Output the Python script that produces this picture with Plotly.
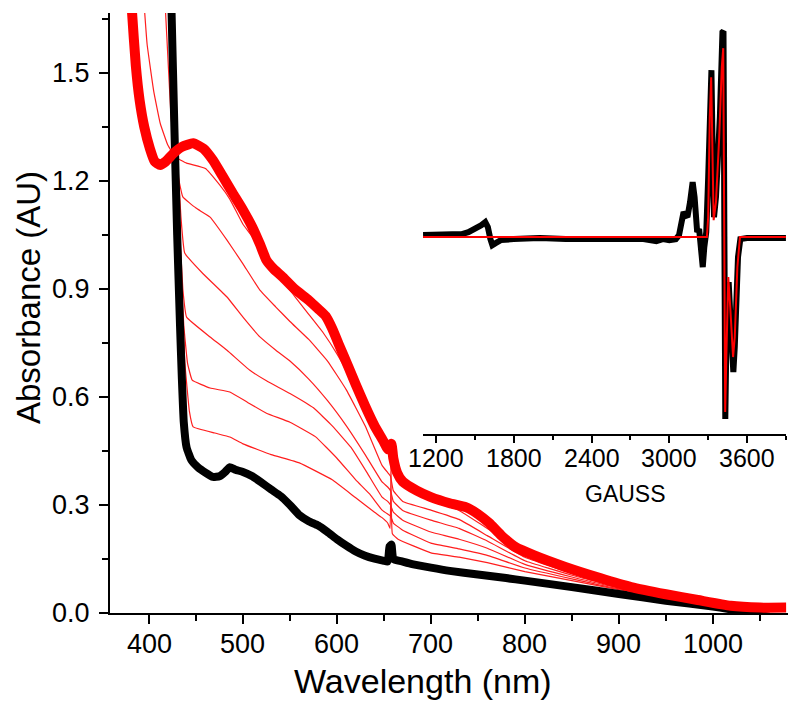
import plotly.graph_objects as go

# ---------------- UV-vis data (wavelength nm, absorbance AU) ----------------
black_wl = [410, 420, 424, 427, 430, 433, 435, 437, 440, 445, 452, 460, 468, 475, 481, 486, 492, 500,
            510, 520, 530, 540, 550, 560, 570, 580, 590, 600, 610, 620, 630, 640, 650, 654, 656, 658,
            660, 670, 680, 700, 720, 750, 780, 800, 850, 900, 950, 1000, 1030, 1060]
black_abs = [3.0, 2.1, 1.67, 1.35, 1.05, 0.80, 0.65, 0.53, 0.46, 0.425, 0.405, 0.39, 0.378, 0.38, 0.392,
             0.405, 0.398, 0.392, 0.38, 0.362, 0.343, 0.325, 0.30, 0.272, 0.255, 0.243, 0.225, 0.205,
             0.187, 0.171, 0.159, 0.151, 0.145, 0.143, 0.185, 0.19, 0.15, 0.143, 0.136, 0.126, 0.117,
             0.107, 0.097, 0.09, 0.072, 0.053, 0.034, 0.018, 0.005, -0.01]

final_wl = [375, 382, 386, 390, 395, 401, 406, 412, 418, 426, 435, 447, 458, 468, 478, 489, 500, 510,
            518, 525, 533, 542, 555, 570, 580, 588, 595, 603, 612, 620, 630, 640, 650, 654, 656, 658,
            660, 664, 670, 685, 700, 720, 737, 750, 762, 775, 790, 810, 843, 880, 913, 950, 984, 1019,
            1050, 1078]
final_abs = [2.0, 1.667, 1.52, 1.425, 1.35, 1.29, 1.255, 1.245, 1.255, 1.277, 1.295, 1.305, 1.29, 1.258,
             1.215, 1.167, 1.12, 1.072, 1.025, 0.98, 0.955, 0.934, 0.90, 0.869, 0.845, 0.825, 0.79, 0.74,
             0.685, 0.635, 0.575, 0.52, 0.475, 0.455, 0.46, 0.47, 0.43, 0.39, 0.365, 0.34, 0.322, 0.305,
             0.294, 0.275, 0.25, 0.215, 0.183, 0.16, 0.128, 0.097, 0.072, 0.052, 0.036, 0.02, 0.015, 0.015]

# intermediate spectra (thin lines)
a_wl = [394, 398, 405, 412, 420, 428, 440, 460, 475, 486, 500, 510, 525, 540, 555, 570, 585, 600, 615,
        630, 645, 654, 657, 660, 670, 700, 730, 760, 800, 850, 900, 950]
a_abs = [1.72, 1.58, 1.45, 1.36, 1.30, 1.267, 1.25, 1.235, 1.19, 1.15, 1.08, 1.045, 0.975, 0.93, 0.88,
         0.83, 0.78, 0.72, 0.65, 0.575, 0.505, 0.47, 0.45, 0.40, 0.36, 0.315, 0.285, 0.235, 0.17, 0.12,
         0.08, 0.058]

b_wl = [415, 419, 423, 427, 432, 436, 450, 465, 483, 500, 518, 535, 550, 570, 590, 610, 630, 648, 654,
        657, 660, 670, 700, 730, 760, 800, 850, 900, 950]
b_abs = [1.8, 1.6, 1.4, 1.28, 1.2, 1.156, 1.125, 1.1, 1.036, 0.97, 0.897, 0.85, 0.81, 0.76, 0.70, 0.62,
         0.52, 0.41, 0.39, 0.38, 0.34, 0.31, 0.286, 0.26, 0.215, 0.155, 0.11, 0.075, 0.055]

c_wl = [420, 425, 430, 434, 438, 457, 483, 500, 518, 535, 550, 570, 590, 610, 630, 648, 654, 657, 660,
        670, 700, 730, 760, 800, 850, 900, 950]
c_abs = [2.0, 1.6, 1.28, 1.1, 1.0, 0.944, 0.878, 0.822, 0.767, 0.73, 0.70, 0.65, 0.59, 0.52, 0.44, 0.364,
         0.35, 0.34, 0.31, 0.285, 0.258, 0.235, 0.2, 0.145, 0.105, 0.072, 0.052]

d_wl = [421, 427, 432, 436, 440, 465, 483, 507, 525, 550, 575, 595, 615, 632, 648, 654, 657, 660, 670,
        700, 730, 760, 800, 850, 900, 950]
d_abs = [2.0, 1.5, 1.1, 0.9, 0.822, 0.767, 0.73, 0.675, 0.645, 0.61, 0.57, 0.52, 0.46, 0.39, 0.322, 0.31,
         0.30, 0.28, 0.258, 0.225, 0.205, 0.18, 0.135, 0.10, 0.07, 0.05]

e_wl = [422, 428, 433, 437, 441, 446, 465, 486, 505, 525, 550, 577, 600, 620, 635, 648, 654, 657, 660,
        670, 700, 730, 760, 800, 850, 900, 950]
e_abs = [2.0, 1.4, 1.0, 0.8, 0.694, 0.647, 0.625, 0.614, 0.585, 0.555, 0.53, 0.49, 0.43, 0.37, 0.33,
         0.286, 0.275, 0.27, 0.25, 0.23, 0.194, 0.178, 0.16, 0.125, 0.095, 0.067, 0.048]

f_wl = [423, 429, 434, 438, 443, 447, 470, 486, 500, 530, 560, 595, 620, 640, 648, 654, 656.5, 657.5,
        659, 665, 700, 730, 760, 800, 850, 900, 950]
f_abs = [2.0, 1.4, 0.95, 0.7, 0.56, 0.517, 0.50, 0.489, 0.47, 0.44, 0.417, 0.37, 0.32, 0.28, 0.265, 0.25,
         0.235, 0.41, 0.22, 0.205, 0.167, 0.155, 0.14, 0.115, 0.09, 0.065, 0.046]

thin_series = [(a_wl, a_abs), (b_wl, b_abs), (c_wl, c_abs), (d_wl, d_abs), (e_wl, e_abs), (f_wl, f_abs)]

# tick values
x_ticks = [400, 500, 600, 700, 800, 900, 1000]
y_ticks = [0.0, 0.3, 0.6, 0.9, 1.2, 1.5]
g_ticks = [1200, 1800, 2400, 3000, 3600]

# ---------------- EPR inset data (field G, intensity a.u.) ----------------
epr_exp_g = [1100, 1300, 1400, 1450, 1500, 1550, 1580, 1600, 1620, 1635, 1660, 1700, 1800, 2000, 2200,
             2400, 2600, 2800, 2900, 2950, 3000, 3050, 3075, 3095, 3110, 3125, 3140, 3160, 3180, 3195,
             3205, 3215, 3230, 3245, 3258, 3270, 3285, 3300, 3315, 3325, 3335, 3345, 3360, 3390, 3410,
             3418, 3425, 3432, 3445, 3458, 3475, 3494, 3505, 3530, 3548, 3600, 3900]
epr_exp_i = [2, 2, 3, 5, 8, 12, 15, 10, -2, -8, -6, -3, -2, -1, -2, -2, -1, -2, -4, -2, -3, -2, 2, 18, 25,
             22, 20, 35, 55, 40, 10, 5, 8, -15, -30, -10, 5, 60, 150, 167, 80, 20, 40, 120, 205, 206, 0,
             -182, -60, -45, -90, -135, -110, -20, -2, -1, -1]

epr_sim_g = [1100, 3290, 3300, 3312, 3323, 3333, 3342, 3360, 3385, 3405, 3416, 3424, 3431, 3440, 3455,
             3470, 3492, 3505, 3525, 3545, 3900]
epr_sim_i = [0, 0, 20, 120, 160, 60, 17, 35, 100, 170, 189, 0, -175, -120, -40, -70, -120, -100, -30, 0, 0]

FONT = "Liberation Sans, Arial, sans-serif"

fig = go.Figure()

for wl, ab in thin_series:
    fig.add_trace(go.Scatter(x=wl, y=ab, mode="lines",
                             line=dict(color="rgb(255,30,30)", width=1.2, shape="spline", smoothing=0.3),
                             showlegend=False, hoverinfo="skip"))

fig.add_trace(go.Scatter(x=black_wl, y=black_abs, mode="lines",
                         line=dict(color="black", width=8, shape="spline", smoothing=0.4),
                         showlegend=False))
fig.add_trace(go.Scatter(x=final_wl, y=final_abs, mode="lines",
                         line=dict(color="rgb(255,0,0)", width=10, shape="spline", smoothing=0.5),
                         showlegend=False))

# inset
fig.add_trace(go.Scatter(x=epr_exp_g, y=epr_exp_i, mode="lines", xaxis="x2", yaxis="y2",
                         line=dict(color="black", width=6), showlegend=False))
fig.add_trace(go.Scatter(x=epr_sim_g, y=epr_sim_i, mode="lines", xaxis="x2", yaxis="y2",
                         line=dict(color="rgb(255,0,0)", width=2), showlegend=False))

annotations = [
    dict(text="Absorbance (AU)", x=-0.1209, y=0.525, xref="paper", yref="paper", textangle=-90,
         showarrow=False, xanchor="center", yanchor="middle", font=dict(size=33, family=FONT)),
    dict(text="Wavelength (nm)", x=0.4617, y=-0.113, xref="paper", yref="paper",
         showarrow=False, xanchor="center", yanchor="middle", font=dict(size=34, family=FONT)),
    dict(text="GAUSS", x=0.7596, y=0.198, xref="paper", yref="paper",
         showarrow=False, xanchor="center", yanchor="middle", font=dict(size=23, family=FONT)),
]
# tick labels placed against the axes' own scales
for v in x_ticks:
    annotations.append(dict(text=str(v), x=v, y=-0.0517, xref="x", yref="paper", showarrow=False,
                            xanchor="center", yanchor="middle", font=dict(size=27, family=FONT)))
for v in y_ticks:
    annotations.append(dict(text=f"{v:.1f}", x=-0.0265, y=v, xref="paper", yref="y", showarrow=False,
                            xanchor="right", yanchor="middle", font=dict(size=27, family=FONT)))
for v in g_ticks:
    annotations.append(dict(text=str(v), x=v, y=0.2583, xref="x2", yref="paper", showarrow=False,
                            xanchor="center", yanchor="middle", font=dict(size=25, family=FONT)))

fig.update_layout(
    width=800, height=711,
    margin=dict(l=102, r=20, t=5, b=106),
    paper_bgcolor="white", plot_bgcolor="white",
    font=dict(family=FONT, color="black"),
    xaxis=dict(range=[358.5, 1080], domain=[0, 1], showline=True, linecolor="black", linewidth=2,
               ticks="outside", ticklen=9, tickwidth=2, tickcolor="black",
               tickvals=x_ticks, showticklabels=False,
               minor=dict(tickvals=[450, 550, 650, 750, 850, 950, 1050], ticks="outside", ticklen=6,
                          tickwidth=2, tickcolor="black"),
               showgrid=False, zeroline=False, anchor="y"),
    yaxis=dict(range=[0, 1.667], domain=[0, 1], showline=True, linecolor="black", linewidth=2,
               ticks="outside", ticklen=9, tickwidth=2, tickcolor="black",
               tickvals=y_ticks, showticklabels=False,
               minor=dict(tickvals=[0.15, 0.45, 0.75, 1.05, 1.35, 1.65], ticks="outside", ticklen=6,
                          tickwidth=2, tickcolor="black"),
               showgrid=False, zeroline=False, anchor="x"),
    xaxis2=dict(range=[1100, 3900], domain=[0.4617, 0.997], anchor="y2", showline=True,
                linecolor="black", linewidth=1.5, ticks="outside", ticklen=7, tickwidth=1.5,
                tickcolor="black", tickvals=g_ticks, showticklabels=False,
                minor=dict(tickvals=[1500, 2100, 2700, 3300, 3900], ticks="outside", ticklen=4,
                           tickwidth=1.5, tickcolor="black"),
                showgrid=False, zeroline=False),
    yaxis2=dict(range=[-197, 217], domain=[0.2983, 0.988], anchor="x2", visible=False,
                showgrid=False, zeroline=False),
    annotations=annotations,
)

fig.write_html("out.html")
